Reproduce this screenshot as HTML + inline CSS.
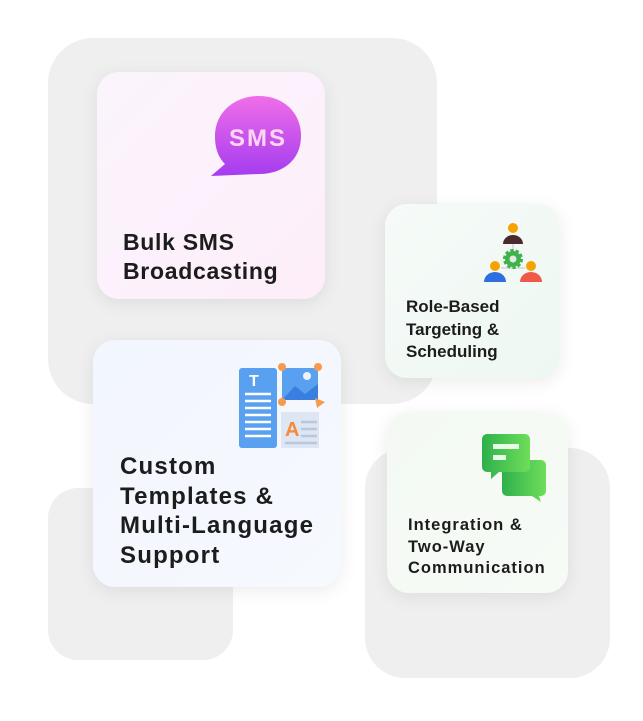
<!DOCTYPE html>
<html><head><meta charset="utf-8"><style>
body{margin:0;width:643px;height:721px;background:#fff;position:relative;overflow:hidden;font-family:"Liberation Sans",sans-serif;}
.bg{position:absolute;background:#efefef;border-radius:40px;}
.card{position:absolute;border-radius:22px;box-shadow:0 4px 18px rgba(0,0,0,0.08);}
.t{position:absolute;font-weight:bold;color:#1c1c1c;}
</style></head><body>
<div class="bg" style="left:48px;top:38px;width:389px;height:366px;border-radius:45px"></div>
<div class="bg" style="left:48px;top:488px;width:185px;height:172px;border-radius:30px"></div>
<div class="bg" style="left:365px;top:448px;width:245px;height:230px;border-radius:40px"></div>

<div class="card" style="left:97px;top:72px;width:228px;height:227px;background:linear-gradient(135deg,#fbf4fd,#fdeefa)">
  <svg style="position:absolute;left:112px;top:22px" width="96" height="84" viewBox="0 0 96 84">
    <defs><linearGradient id="g1" x1="0" y1="0" x2="0" y2="1"><stop offset="0" stop-color="#f06ee8"/><stop offset="1" stop-color="#a43cf0"/></linearGradient></defs>
    <path d="M50 2 C74 2 92 18 92 42 C92 66 74 80 50 80 L2 82 L16 70 C8 62 6 52 6 42 C6 18 26 2 50 2Z" fill="url(#g1)"/>
    <text x="49" y="52" text-anchor="middle" font-family="Liberation Sans" font-weight="bold" font-size="24" fill="#ffd6f4" letter-spacing="2">SMS</text>
  </svg>
  <div class="t" style="left:26px;top:156px;font-size:23px;line-height:29px;letter-spacing:0.7px">Bulk SMS<br>Broadcasting</div>
</div>

<div class="card" style="left:385px;top:204px;width:175px;height:174px;background:linear-gradient(135deg,#f6faf8,#eef8f2)">
  <svg style="position:absolute;left:96px;top:16px" width="64" height="62" viewBox="0 0 64 62">
    <line x1="32" y1="24" x2="32" y2="38" stroke="#ddd" stroke-width="2"/><line x1="20" y1="48" x2="44" y2="48" stroke="#ddd" stroke-width="2"/>
    <circle cx="32" cy="8" r="5" fill="#f5a300"/><path d="M22 24 a10 9 0 0 1 20 0z" fill="#4a2a2c"/>
    <circle cx="32" cy="39" r="8" fill="#3cb44a" stroke="#3cb44a" stroke-width="4" stroke-dasharray="3 2"/><circle cx="32" cy="39" r="3.5" fill="#e8e8e8"/>
    <circle cx="14" cy="46" r="5" fill="#f5a300"/><path d="M3 62 a11 10 0 0 1 22 0z" fill="#2e6fe0"/>
    <circle cx="50" cy="46" r="5" fill="#f5a300"/><path d="M39 62 a11 10 0 0 1 22 0z" fill="#f0584a"/>
  </svg>
  <div class="t" style="left:21px;top:92px;font-size:17px;line-height:22.5px">Role-Based<br>Targeting &amp;<br>Scheduling</div>
</div>

<div class="card" style="left:93px;top:340px;width:248px;height:247px;background:linear-gradient(135deg,#f2f6fd,#f6f9fe)">
  <svg style="position:absolute;left:144px;top:22px" width="90" height="90" viewBox="0 0 90 90">
    <rect x="2" y="6" width="38" height="80" rx="3" fill="#5aa0f0"/>
    <text x="12" y="24" font-family="Liberation Sans" font-weight="bold" font-size="16" fill="#fff">T</text>
    <g stroke="#fff" stroke-width="2.5"><line x1="8" y1="32" x2="34" y2="32"/><line x1="8" y1="39" x2="34" y2="39"/><line x1="8" y1="46" x2="34" y2="46"/><line x1="8" y1="53" x2="34" y2="53"/><line x1="8" y1="60" x2="34" y2="60"/><line x1="8" y1="67" x2="34" y2="67"/><line x1="8" y1="74" x2="34" y2="74"/></g>
    <rect x="45" y="6" width="36" height="32" fill="#5aa0f0"/><circle cx="70" cy="14" r="4" fill="#e9f3ff"/><path d="M45 38 L58 24 L68 32 L81 22 L81 38Z" fill="#3a7fe0"/>
    <circle cx="45" cy="5" r="4" fill="#f79a4a"/><circle cx="81" cy="5" r="4" fill="#f79a4a"/><circle cx="45" cy="40" r="4" fill="#f79a4a"/><path d="M78 36 L88 40 L80 46Z" fill="#f79a4a"/>
    <rect x="44" y="50" width="38" height="36" fill="#dde6f2"/>
    <text x="48" y="74" font-family="Liberation Sans" font-weight="bold" font-size="20" fill="#f58a3c">A</text>
    <g stroke="#b8c8dc" stroke-width="2.5"><line x1="64" y1="60" x2="80" y2="60"/><line x1="64" y1="67" x2="80" y2="67"/><line x1="64" y1="74" x2="80" y2="74"/><line x1="48" y1="81" x2="80" y2="81"/></g>
  </svg>
  <div class="t" style="left:27px;top:112px;font-size:24px;line-height:29.5px;letter-spacing:1.2px">Custom<br>Templates &amp;<br>Multi-Language<br>Support</div>
</div>

<div class="card" style="left:387px;top:412px;width:181px;height:181px;background:linear-gradient(135deg,#f4f9f4,#f6fbf6)">
  <svg style="position:absolute;left:94px;top:20px" width="70" height="70" viewBox="0 0 70 70">
    <defs><linearGradient id="g2" x1="0" y1="0" x2="1" y2="0"><stop offset="0" stop-color="#2fb04c"/><stop offset="1" stop-color="#6ede5a"/></linearGradient></defs>
    <path d="M26 28 h34 a5 5 0 0 1 5 5 v26 a5 5 0 0 1 -5 5 h-2 l2 6 l-9 -6 h-25 a5 5 0 0 1 -5 -5 v-26 a5 5 0 0 1 5 -5z" fill="url(#g2)"/>
    <path d="M6 2 h38 a5 5 0 0 1 5 5 v28 a5 5 0 0 1 -5 5 h-26 l-8 7 v-7 h-4 a5 5 0 0 1 -5 -5 v-28 a5 5 0 0 1 5 -5z" fill="url(#g2)"/>
    <rect x="12" y="12" width="26" height="5" fill="#e8fbe9"/><rect x="12" y="23" width="13" height="5" fill="#e8fbe9"/>
  </svg>
  <div class="t" style="left:21px;top:103px;font-size:16.5px;line-height:21.5px;letter-spacing:1px">Integration &amp;<br>Two-Way<br>Communication</div>
</div>
</body></html>
